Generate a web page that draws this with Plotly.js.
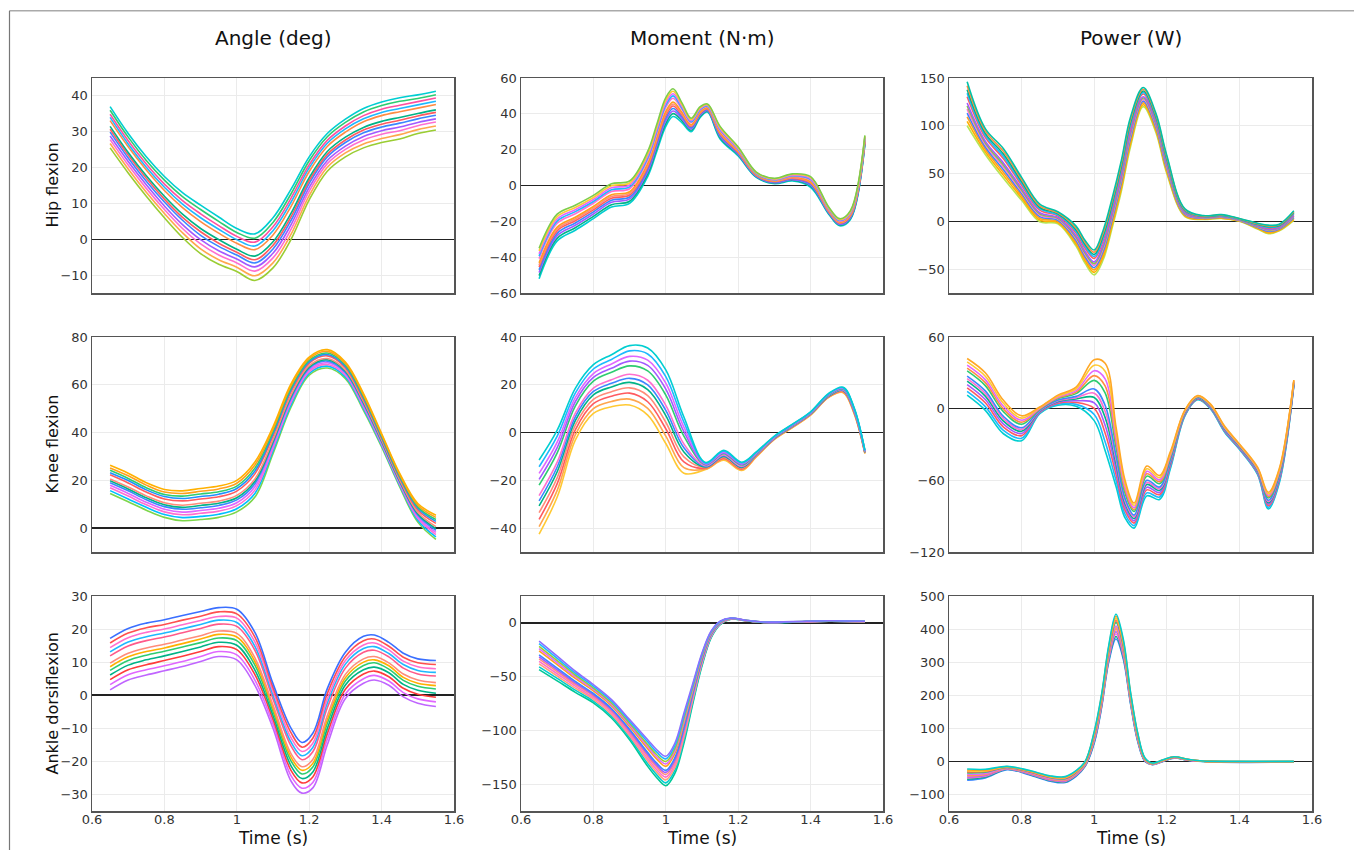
<!DOCTYPE html>
<html>
<head>
<meta charset="utf-8">
<script src="https://cdn.plot.ly/plotly-3.0.1.min.js"></script>
<style>html,body{margin:0;padding:0;background:#fff;}#chart{width:1354px;height:850px;}</style>
</head>
<body>
<div id="chart"></div>
<script>
// ---------- labels ----------
const columnTitles = ["Angle (deg)", "Moment (N\u00b7m)", "Power (W)"];
const rowTitles = ["Hip flexion", "Knee flexion", "Ankle dorsiflexion"];
const xTitle = "Time (s)";
const xTicks = [0.6, 0.8, 1.0, 1.2, 1.4, 1.6];
const xTickText = ['0.6','0.8','1','1.2','1.4','1.6'];

// ---------- data (each panel: time array + curves, lowest to highest) ----------
const timeStd = [0.65,0.70,0.75,0.80,0.85,0.90,0.95,1.0,1.05,1.10,1.15,1.20,1.25,1.30,1.35,1.40,1.45,1.50,1.55];

const hipAngleTime = timeStd;
const hipAngle = [
  [25.5,18.5,12,6,0.5,-4,-7,-9,-11.5,-8,0,11,19,23,25.5,27,28,29.5,30.5],
  [26.7,19.6,13.1,7.2,1.8,-2.7,-5.7,-7.8,-10.2,-6.6,1.4,12.2,20.1,24.1,26.6,28.1,29.2,30.6,31.6],
  [27.8,20.7,14.2,8.3,3.0,-1.3,-4.4,-6.6,-8.9,-5.2,2.8,13.4,21.1,25.1,27.7,29.3,30.3,31.7,32.7],
  [28.8,21.7,15.2,9.3,4.1,-0.1,-3.2,-5.5,-7.7,-3.9,4.1,14.5,22.0,26.0,28.7,30.3,31.3,32.6,33.6],
  [29.9,22.7,16.2,10.4,5.3,1.1,-2.0,-4.4,-6.6,-2.7,5.3,15.6,23.0,27.0,29.7,31.3,32.4,33.6,34.6],
  [30.7,23.5,17.0,11.2,6.1,2.1,-1.1,-3.6,-5.7,-1.7,6.3,16.4,23.7,27.7,30.5,32.1,33.2,34.4,35.4],
  [31.5,24.2,17.7,12.0,7.0,3.0,-0.1,-2.8,-4.7,-0.7,7.3,17.2,24.5,28.5,31.2,32.9,34.0,35.1,36.1],
  [33.1,25.8,19.3,13.6,8.8,4.9,1.7,-1.1,-2.9,1.2,9.2,18.9,25.9,29.9,32.8,34.5,35.6,36.6,37.6],
  [34.0,26.6,20.1,14.5,9.8,6.0,2.8,-0.1,-1.9,2.4,10.4,19.9,26.8,30.8,33.6,35.4,36.5,37.5,38.5],
  [34.9,27.5,21.0,15.4,10.8,7.1,3.8,0.8,-0.8,3.5,11.5,20.8,27.6,31.6,34.5,36.3,37.4,38.4,39.4],
  [36.0,28.5,22.0,16.5,11.9,8.3,5.0,1.9,0.3,4.7,12.7,21.9,28.6,32.6,35.5,37.3,38.5,39.3,40.3],
  [37,29.5,23,17.5,13,9.5,6.2,3,1.5,6,14,23,29.5,33.5,36.5,38.3,39.5,40.3,41.3]
];

const hipMomentTime = [0.65,0.70,0.75,0.80,0.85,0.90,0.95,0.975,1.0,1.02,1.045,1.07,1.095,1.115,1.15,1.2,1.25,1.3,1.35,1.4,1.45,1.48,1.51,1.55];
const hipMoment = [
  [-52,-31,-25,-18.5,-12,-10,5,19,33,38.5,35,30,38,41,26,16.5,4.5,1,2.5,-1,-16,-22.5,-19,23],
  [-50.3,-29.5,-23.6,-17.2,-10.7,-8.8,6.4,20.5,34.6,40.1,36.1,30.8,38.6,41.5,26.7,17.0,4.8,1.3,2.9,-0.4,-15.6,-22.1,-18.5,23.5],
  [-48.6,-28,-22.2,-15.9,-9.4,-7.5,7.8,22,36.2,41.6,37.2,31.5,39.2,41.9,27.4,17.5,5.1,1.6,3.3,0.2,-15.2,-21.7,-18,24],
  [-47.1,-26.7,-20.9,-14.7,-8.2,-6.4,9.1,23.4,37.6,43.0,38.2,32.2,39.7,42.3,28.0,18.0,5.4,1.9,3.7,0.7,-14.8,-21.3,-17.6,24.5],
  [-45.5,-25.3,-19.7,-13.6,-7.1,-5.3,10.3,24.7,39.1,44.4,39.2,32.9,40.3,42.7,28.7,18.4,5.6,2.1,4,1.3,-14.5,-21,-17.1,24.9],
  [-44.4,-24.3,-18.7,-12.7,-6.2,-4.4,11.3,25.8,40.2,45.5,40.0,33.4,40.7,43.0,29.2,18.8,5.9,2.4,4.3,1.7,-14.2,-20.7,-16.8,25.3],
  [-43.2,-23.2,-17.7,-11.7,-5.2,-3.5,12.3,26.8,41.3,46.6,40.7,33.9,41.1,43.3,29.6,19.1,6.1,2.6,4.6,2.1,-13.9,-20.4,-16.4,25.6],
  [-40.8,-21.1,-15.8,-9.9,-3.4,-1.8,14.2,28.9,43.6,48.7,42.3,35,42,44,30.6,19.8,6.5,3,5.1,3,-13.4,-19.9,-15.7,26.3],
  [-39.4,-19.9,-14.6,-8.9,-2.4,-0.8,15.4,30.1,44.8,50.0,43.1,35.6,42.4,44.3,31.2,20.2,6.7,3.2,5.5,3.4,-13.0,-19.5,-15.3,26.7],
  [-38.1,-18.7,-13.5,-7.8,-1.3,0.3,16.5,31.3,46.1,51.2,44,36.2,42.9,44.7,31.7,20.6,7,3.5,5.8,3.9,-12.7,-19.2,-14.9,27.1],
  [-36.5,-17.4,-12.3,-6.7,-0.2,1.4,17.7,32.7,47.6,52.6,45.0,36.8,43.5,45.1,32.4,21.1,7.2,3.7,6.1,4.5,-12.4,-18.9,-14.5,27.6],
  [-35,-16,-11,-5.5,1,2.5,19,34,49,54,46,37.5,44,45.5,33,21.5,7.5,4,6.5,5,-12,-18.5,-14,28]
];

const hipPowerTime = [0.65,0.70,0.75,0.80,0.85,0.90,0.95,0.975,1.0,1.025,1.05,1.075,1.1,1.135,1.17,1.2,1.25,1.3,1.35,1.4,1.45,1.48,1.51,1.55];
const hipPower = [
  [100,70,45,22,-0.5,-2.5,-26,-44,-56,-40,-6,32,78,120,93,50,5,2,3,0,-8,-13,-10,1],
  [104.6,72.7,48.1,24.4,1.4,-1.3,-23.9,-41.6,-53.4,-36.9,-2.9,35.2,81.1,122,95,51.9,5.8,2.4,3.4,0.3,-7.4,-12.1,-9.3,2],
  [109.2,75.4,51.2,26.8,3.2,0,-21.8,-39.2,-50.8,-33.8,0.2,38.4,84.2,124,97,53.8,6.6,2.8,3.8,0.6,-6.8,-11.2,-8.6,3],
  [113.3,77.8,54.0,29.0,4.9,1.1,-19.9,-37.0,-48.5,-31.0,3.0,41.3,87.0,125.8,98.8,55.5,7.3,3.2,4.2,0.9,-6.3,-10.4,-8.0,3.9],
  [117.5,80.3,56.8,31.1,6.5,2.3,-18,-34.9,-46.1,-28.2,5.8,44.2,89.8,127.6,100.6,57.2,8,3.5,4.5,1.1,-5.7,-9.6,-7.3,4.8],
  [120.7,82.2,59.0,32.8,7.8,3.1,-16.6,-33.2,-44.3,-26.1,8.0,46.4,92.0,129,102,58.6,8.6,3.8,4.8,1.4,-5.3,-9.0,-6.9,5.5],
  [123.9,84,61.1,34.5,9.1,4,-15.1,-31.5,-42.5,-23.9,10.1,48.6,94.1,130.4,103.4,59.9,9.2,4.1,5.1,1.6,-4.9,-8.3,-6.4,6.2],
  [130.4,87.8,65.5,37.8,11.7,5.8,-12.1,-28.2,-38.8,-19.5,14.5,53.1,98.5,133.2,106.2,62.5,10.3,4.6,5.6,2,-4,-7.1,-5.4,7.6],
  [134.0,90.0,67.9,39.8,13.2,6.8,-10.5,-26.2,-36.8,-17.1,16.9,55.7,100.9,134.8,107.8,64.1,10.9,5.0,6.0,2.2,-3.6,-6.3,-4.8,8.4],
  [137.7,92.1,70.4,41.7,14.7,7.8,-8.8,-24.3,-34.7,-14.6,19.4,58.2,103.4,136.4,109.4,65.6,11.6,5.3,6.3,2.5,-3.1,-5.6,-4.3,9.2],
  [141.9,94.6,73.2,43.8,16.3,8.9,-6.9,-22.2,-32.3,-11.8,22.2,61.1,106.2,138.2,111.2,67.3,12.3,5.6,6.6,2.7,-2.5,-4.8,-3.6,10.1],
  [146,97,76,46,18,10,-5,-20,-30,-9,25,64,109,140,113,69,13,6,7,3,-2,-4,-3,11]
];

const kneeAngleTime = timeStd;
const kneeAngle = [
  [14.5,11,7.5,4.5,3.1,3.6,4.5,6.8,13,31.2,50.7,64,67,62.6,49.3,34,17.3,2.5,-4.7],
  [15.7,12.2,8.7,5.7,4.4,4.9,5.8,8.1,14.5,32.3,51.7,64.8,67.8,63.3,50.0,34.6,17.9,3.3,-3.7],
  [16.9,13.4,9.8,6.8,5.6,6.2,7.1,9.4,15.9,33.4,52.7,65.5,68.5,64,50.7,35.1,18.4,4.1,-2.7],
  [17.9,14.5,10.8,7.9,6.7,7.4,8.3,10.6,17.3,34.4,53.5,66.2,69.2,64.6,51.3,35.6,18.9,4.8,-1.8],
  [19,15.6,11.9,9,7.9,8.5,9.5,11.8,18.6,35.5,54.4,66.9,69.9,65.2,52,36.1,19.4,5.5,-0.9],
  [19.8,16.4,12.7,9.8,8.7,9.5,10.4,12.7,19.6,36.2,55.1,67.4,70.5,65.7,52.5,36.5,19.8,6.0,-0.2],
  [20.6,17.2,13.5,10.6,9.6,10.4,11.3,13.7,20.6,37,55.8,68,71,66.2,53,36.9,20.2,6.6,0.6],
  [22.3,18.9,15.1,12.2,11.4,12.2,13.1,15.5,22.7,38.6,57.2,69,72.1,67.2,53.9,37.7,21,7.6,2],
  [23.2,19.9,16.0,13.2,12.4,13.2,14.2,16.6,23.9,39.5,58.0,69.6,72.7,67.7,54.5,38.1,21.4,8.3,2.8],
  [24.2,20.8,16.9,14.1,13.4,14.3,15.2,17.6,25.1,40.4,58.7,70.2,73.3,68.3,55,38.6,21.9,8.9,3.6],
  [25.2,21.9,18.0,15.1,14.5,15.4,16.4,18.8,26.4,41.4,59.6,70.9,74.0,68.9,55.7,39.1,22.4,9.6,4.5],
  [26.3,23,19,16.2,15.6,16.6,17.6,20,27.7,42.4,60.5,71.6,74.7,69.5,56.3,39.6,22.9,10.3,5.4]
];

const kneeMomentTime = [0.65,0.70,0.75,0.80,0.85,0.90,0.95,1.0,1.05,1.11,1.16,1.21,1.25,1.3,1.35,1.4,1.45,1.49,1.52,1.55];
const kneeMoment = [
  [-42.5,-27,-3.2,8,10.8,11.5,7.3,-4.6,-17,-15.5,-11.6,-15.9,-10.2,-2.9,2.1,7.3,14.7,16.7,8,-8.8],
  [-39.4,-24.2,-1.0,10.0,13.0,14.0,10.1,-1.5,-14.7,-15.2,-11.2,-15.6,-10.0,-2.8,2.2,7.4,14.9,16.9,8.3,-8.7],
  [-36.3,-21.4,1.1,12.1,15.2,16.5,12.9,1.6,-12.3,-14.9,-10.8,-15.2,-9.8,-2.6,2.4,7.6,15,17.2,8.5,-8.5],
  [-33.5,-18.9,3.1,13.9,17.1,18.7,15.5,4.3,-10.2,-14.6,-10.4,-14.9,-9.6,-2.5,2.5,7.7,15.2,17.4,8.7,-8.4],
  [-30.7,-16.4,5,15.8,19.1,21,18,7.1,-8.1,-14.4,-10,-14.6,-9.4,-2.4,2.6,7.8,15.3,17.6,9,-8.3],
  [-28.6,-14.4,6.6,17.2,20.6,22.7,20.0,9.3,-6.4,-14.2,-9.7,-14.3,-9.3,-2.3,2.7,7.9,15.5,17.7,9.1,-8.2],
  [-26.4,-12.4,8.1,18.6,22.1,24.4,21.9,11.4,-4.8,-13.9,-9.4,-14.1,-9.1,-2.2,2.8,8,15.6,17.9,9.3,-8.1],
  [-22,-8.5,11.1,21.5,25.2,27.9,25.8,15.7,-1.5,-13.5,-8.8,-13.6,-8.8,-2,3,8.2,15.8,18.2,9.7,-7.9],
  [-19.6,-6.3,12.9,23.1,26.9,29.9,28.1,18.2,0.4,-13.3,-8.5,-13.3,-8.6,-1.9,3.1,8.3,16.0,18.4,9.9,-7.8],
  [-17.1,-4,14.6,24.7,28.7,31.9,30.3,20.7,2.3,-13,-8.2,-13,-8.5,-1.8,3.3,8.4,16.1,18.6,10.1,-7.7],
  [-14.3,-1.5,16.5,26.6,30.6,34.2,32.9,23.4,4.4,-12.8,-7.8,-12.7,-8.3,-1.6,3.4,8.6,16.2,18.8,10.3,-7.5],
  [-11.5,1,18.5,28.4,32.6,36.4,35.4,26.2,6.5,-12.5,-7.4,-12.4,-8.1,-1.5,3.5,8.7,16.4,19,10.5,-7.4]
];

const kneePowerTime = [0.65,0.70,0.75,0.80,0.85,0.90,0.95,1.0,1.03,1.06,1.085,1.11,1.145,1.18,1.21,1.25,1.285,1.32,1.36,1.4,1.45,1.48,1.51,1.55];
const kneePower = [
  [11.3,-1.4,-21,-26.8,-4.2,2.8,2,-10,-35,-65,-91.5,-100,-73,-76,-50,-6,7.5,0,-20,-34,-55,-84,-62,19.5],
  [14.4,1.7,-18.2,-24.7,-3.6,3.7,3.6,-4.9,-27.7,-60,-88.4,-97.9,-70.5,-74,-48.6,-5.5,7.9,0.4,-19.5,-33.6,-54.4,-82.6,-60.8,19.9],
  [17.4,4.9,-15.4,-22.6,-3.1,4.5,5.2,0.2,-20.4,-55,-85.2,-95.8,-68,-72,-47.2,-5,8.2,0.8,-19,-33.1,-53.8,-81.2,-59.6,20.4],
  [20.2,7.7,-12.9,-20.8,-2.6,5.3,6.6,4.8,-13.8,-50.5,-82.4,-93.9,-65.8,-70.2,-45.9,-4.6,8.5,1.2,-18.6,-32.7,-53.3,-79.9,-58.5,20.8],
  [23,10.5,-10.4,-18.9,-2.1,6,8.1,9.4,-7.3,-46,-79.5,-92,-63.5,-68.4,-44.7,-4.1,8.8,1.5,-18.1,-32.3,-52.7,-78.7,-57.4,21.2],
  [25.1,12.7,-8.4,-17.4,-1.7,6.6,9.2,13.0,-2.2,-42.5,-77.3,-90.6,-61.8,-67,-43.7,-3.8,9.1,1.8,-17.8,-32.0,-52.3,-77.7,-56.6,21.5],
  [27.3,14.9,-6.4,-16,-1.3,7.2,10.3,16.5,2.9,-39,-75.1,-89.1,-60,-65.6,-42.7,-3.4,9.3,2.1,-17.4,-31.7,-51.9,-76.7,-55.8,21.8],
  [31.6,19.3,-2.5,-13.1,-0.5,8.4,12.6,23.7,13.2,-32,-70.7,-86.1,-56.5,-62.8,-40.8,-2.7,9.8,2.6,-16.7,-31,-51,-74.8,-54.1,22.5],
  [34.0,21.8,-0.3,-11.4,-0.1,9.1,13.8,27.7,19.0,-28,-68.2,-84.5,-54.5,-61.2,-39.6,-2.3,10.1,3.0,-16.3,-30.7,-50.6,-73.6,-53.1,22.8],
  [36.5,24.3,2,-9.7,0.4,9.8,15.1,31.8,24.9,-24,-65.7,-82.8,-52.5,-59.6,-38.5,-1.9,10.4,3.3,-15.9,-30.3,-50.1,-72.5,-52.2,23.2],
  [39.2,27.2,4.5,-7.9,0.9,10.5,16.6,36.4,31.4,-19.5,-62.8,-80.9,-50.3,-57.8,-37.3,-1.5,10.7,3.6,-15.5,-29.9,-49.5,-71.3,-51.1,23.6],
  [42,30,7,-6,1.4,11.3,18,41,38,-15,-60,-79,-48,-56,-36,-1,11,4,-15,-29.5,-49,-70,-50,24]
];

const ankleAngleTime = [0.65,0.70,0.75,0.80,0.85,0.90,0.95,1.0,1.05,1.1,1.15,1.18,1.21,1.25,1.3,1.35,1.38,1.42,1.46,1.5,1.55];
const ankleAngle = [
  [1.6,4.6,6.1,7.4,8.7,10.2,11.7,10.7,3,-10,-26,-29.6,-28,-15,-1,3.6,4.6,3,-0.5,-2.4,-3.4],
  [3.2,6.2,7.7,8.9,10.2,11.7,13.2,12.2,4.6,-8.7,-24.4,-28.1,-26.4,-13.3,0.4,5.0,6.0,4.3,0.8,-1.1,-2.0],
  [4.7,7.7,9.2,10.5,11.8,13.2,14.7,13.8,6.2,-7.3,-22.8,-26.5,-24.7,-11.6,1.8,6.4,7.3,5.6,2.1,0.3,-0.6],
  [6.1,9.1,10.7,11.9,13.2,14.6,16.0,15.1,7.6,-6.1,-21.4,-25.2,-23.2,-10.1,3.1,7.7,8.5,6.8,3.3,1.5,0.6],
  [7.5,10.5,12.1,13.3,14.6,15.9,17.3,16.5,9.1,-4.9,-19.9,-23.8,-21.7,-8.5,4.3,9,9.8,7.9,4.5,2.7,1.9],
  [8.6,11.6,13.2,14.3,15.6,17.0,18.4,17.6,10.2,-3.9,-18.8,-22.7,-20.6,-7.4,5.3,10.0,10.7,8.9,5.4,3.6,2.9],
  [9.7,12.7,14.3,15.4,16.7,18,19.4,18.7,11.3,-3,-17.7,-21.6,-19.4,-6.2,6.3,11,11.7,9.8,6.4,4.6,3.8],
  [11.9,14.9,16.5,17.6,18.9,20.2,21.5,20.8,13.6,-1.1,-15.4,-19.5,-17.1,-3.8,8.2,13,13.6,11.6,8.2,6.4,5.8],
  [13.1,16.1,17.7,18.8,20.1,21.4,22.7,22.0,14.8,0.0,-14.2,-18.3,-15.8,-2.4,9.4,14.1,14.7,12.6,9.3,7.5,6.9],
  [14.4,17.4,19,20,21.3,22.6,23.8,23.3,16.1,1.1,-12.9,-17,-14.5,-1.1,10.5,15.2,15.8,13.7,10.3,8.6,8],
  [15.8,18.8,20.4,21.4,22.7,23.9,25.2,24.6,17.6,2.3,-11.4,-15.7,-13.0,0.5,11.7,16.5,17.0,14.8,11.5,9.8,9.3],
  [17.2,20.2,21.8,22.8,24.1,25.3,26.5,26,19,3.5,-10,-14.3,-11.5,2,13,17.8,18.2,16,12.7,11,10.5]
];

const ankleMomentTime = [0.65,0.70,0.75,0.80,0.85,0.90,0.95,0.975,1.0,1.025,1.05,1.075,1.1,1.125,1.15,1.18,1.22,1.27,1.35,1.45,1.55];
const ankleMoment = [
  [-43.5,-54,-64.6,-74.5,-88.5,-108.7,-133.5,-144,-151.5,-140,-112,-74.5,-40,-14,-1.6,3.5,2,0.4,0.6,1.5,1],
  [-40.9,-51.7,-62.6,-72.8,-86.8,-106.8,-131.0,-141.4,-148.8,-137.2,-109.2,-72.7,-38.8,-13.4,-1.3,3.6,2.1,0.4,0.7,1.6,1.1],
  [-38.2,-49.4,-60.7,-71.1,-85.1,-105,-128.5,-138.8,-146,-134.4,-106.4,-70.8,-37.6,-12.8,-1,3.7,2.1,0.5,0.7,1.6,1.1],
  [-35.8,-47.3,-58.9,-69.6,-83.5,-103.3,-126.3,-136.5,-143.5,-131.9,-103.9,-69.1,-36.5,-12.2,-0.7,3.8,2.1,0.5,0.8,1.6,1.1],
  [-33.4,-45.3,-57.2,-68,-82,-101.6,-124.1,-134.1,-141,-129.4,-101.4,-67.5,-35.4,-11.6,-0.4,3.9,2.2,0.6,0.8,1.7,1.2],
  [-31.6,-43.7,-55.8,-66.9,-80.8,-100.3,-122.3,-132.3,-139.1,-127.4,-99.4,-66.2,-34.6,-11.2,-0.2,4.0,2.2,0.6,0.9,1.7,1.2],
  [-29.7,-42,-54.4,-65.7,-79.6,-99,-120.6,-130.5,-137.2,-125.4,-97.4,-64.9,-33.8,-10.8,0.1,4,2.3,0.6,0.9,1.8,1.3],
  [-26,-38.8,-51.7,-63.3,-77.2,-96.4,-117.1,-126.8,-133.4,-121.5,-93.5,-62.3,-32.1,-9.9,0.5,4.2,2.3,0.7,0.9,1.8,1.3],
  [-23.9,-37.0,-50.1,-61.9,-75.8,-94.9,-115.1,-124.8,-131.2,-119.3,-91.3,-60.8,-31.1,-9.4,0.8,4.2,2.4,0.7,1.0,1.9,1.4],
  [-21.8,-35.1,-48.5,-60.6,-74.5,-93.4,-113.2,-122.7,-129,-117,-89,-59.3,-30.2,-8.9,1,4.3,2.4,0.7,1.1,1.9,1.4],
  [-19.4,-33.1,-46.8,-59.0,-72.9,-91.7,-110.9,-120.3,-126.5,-114.5,-86.5,-57.7,-29.1,-8.4,1.3,4.4,2.5,0.8,1.1,2.0,1.5],
  [-17,-31,-45,-57.5,-71.4,-90,-108.7,-118,-124,-112,-84,-56,-28,-7.8,1.6,4.5,2.5,0.8,1.2,2,1.5]
];

const anklePowerTime = [0.65,0.70,0.76,0.82,0.88,0.92,0.95,0.975,1.0,1.02,1.04,1.06,1.08,1.1,1.12,1.14,1.16,1.19,1.22,1.26,1.3,1.4,1.55];
const anklePower = [
  [-57,-50,-25,-40,-60,-64,-45,-15,55,160,300,370,310,175,60,0,-10,0,10,3,0,-3,-2],
  [-53.6,-47.4,-24,-38.7,-58.4,-62.2,-43.3,-13.5,58.5,164,305,377.5,316,178.5,62.5,1,-9.5,0.5,10.4,3.3,0.1,-2.7,-1.8],
  [-50.2,-44.8,-23,-37.4,-56.8,-60.4,-41.6,-12,62,168,310,385,322,182,65,2,-9,1,10.8,3.6,0.2,-2.4,-1.6],
  [-47.1,-42.5,-22.1,-36.2,-55.4,-58.8,-40.1,-10.7,65.2,171.6,314.5,391.8,327.4,185.2,67.3,2.9,-8.6,1.5,11.2,3.9,0.3,-2.1,-1.4],
  [-44.1,-40.1,-21.2,-35.1,-53.9,-57.2,-38.5,-9.3,68.3,175.2,319,398.5,332.8,188.3,69.5,3.8,-8.1,1.9,11.5,4.1,0.4,-1.9,-1.2],
  [-41.7,-38.3,-20.5,-34.2,-52.8,-55.9,-37.4,-8.3,70.8,178,322.5,403.8,337,190.8,71.3,4.5,-7.8,2.3,11.8,4.4,0.5,-1.7,-1.1],
  [-39.3,-36.5,-19.8,-33.2,-51.7,-54.6,-36.2,-7.2,73.2,180.8,326,409,341.2,193.2,73,5.2,-7.4,2.6,12.1,4.6,0.5,-1.4,-1],
  [-34.6,-32.8,-18.4,-31.4,-49.4,-52.1,-33.8,-5.1,78.1,186.4,333,419.5,349.6,198.1,76.5,6.6,-6.7,3.3,12.6,5,0.7,-1,-0.7],
  [-31.8,-30.8,-17.6,-30.4,-48.2,-50.7,-32.4,-3.9,80.9,189.6,337,425.5,354.4,200.9,78.5,7.4,-6.3,3.7,13,5.2,0.7,-0.8,-0.5],
  [-29.1,-28.7,-16.8,-29.3,-46.9,-49.2,-31.1,-2.7,83.7,192.8,341,431.5,359.2,203.7,80.5,8.2,-5.9,4.1,13.3,5.5,0.8,-0.5,-0.4],
  [-26.1,-26.3,-15.9,-28.2,-45.4,-47.6,-29.5,-1.4,86.9,196.4,345.5,438.3,364.6,206.9,82.8,9.1,-5.5,4.6,13.6,5.7,0.9,-0.3,-0.2],
  [-23,-24,-15,-27,-44,-46,-28,0,90,200,350,445,370,210,85,10,-5,5,14,6,1,0,0]
];

// y-axis settings per panel (row-major)
const yRanges = [[-15,45],[-60,60],[-75,150],[-10,80],[-50,40],[-120,60],[-35,30],[-175,25],[-150,500]];
const yDticks = [10,20,50,20,20,60,10,50,100];

// line colours per panel, lowest curve to highest curve
const panelColors = [
  ['#9ACD32','#FFA64D','#FF6FCF','#A259FF','#3A86FF','#FF5A5F','#00B386','#FF8C42','#1EB8FF','#FF4FA0','#2ECC71','#00CED1'],
  ['#00CED1','#00B386','#A259FF','#3A86FF','#FF5A5F','#FF8C7A','#FF9F1C','#FF6FCF','#1EB8FF','#E066FF','#FFC933','#7CCD4A'],
  ['#B5E655','#FFB000','#FF9F1C','#3A86FF','#FF6FCF','#7CCD4A','#A259FF','#FF5A5F','#1EB8FF','#00B386','#FF8C42','#00C2A8'],
  ['#7CD64A','#00BFFF','#FF6FCF','#E066FF','#3A86FF','#00B386','#FF8C7A','#FF5A5F','#1E90FF','#2ECC71','#FF9F1C','#FFB000'],
  ['#FFC933','#FFA64D','#FF5A5F','#FF8C7A','#00B386','#3A86FF','#FF6FCF','#2ECC71','#A259FF','#E066FF','#1EB8FF','#00CED1'],
  ['#00CED1','#1EB8FF','#FF5A5F','#A259FF','#00B386','#FF6FCF','#3A86FF','#2ECC71','#FF8C42','#E066FF','#FFC933','#FFA726'],
  ['#C065FF','#E066FF','#FF3B3B','#00B386','#2ECC71','#FFB000','#FF8C7A','#FF5A8A','#1EB8FF','#FF6FCF','#FF4F4F','#3A6FFF'],
  ['#00C896','#00CED1','#FFA07A','#FF6FCF','#FF8C7A','#A259FF','#3A86FF','#FF9F1C','#E066FF','#9ACD32','#1EB8FF','#8A6FFF'],
  ['#3A86FF','#00B386','#FF6FCF','#A259FF','#FF8C7A','#FFA726','#E066FF','#2ECC71','#FF5A5F','#FFC933','#FF9F1C','#00CED1']
];

const panels = [
  [hipAngleTime, hipAngle], [hipMomentTime, hipMoment], [hipPowerTime, hipPower],
  [kneeAngleTime, kneeAngle], [kneeMomentTime, kneeMoment], [kneePowerTime, kneePower],
  [ankleAngleTime, ankleAngle], [ankleMomentTime, ankleMoment], [anklePowerTime, anklePower]
];

// ---------- layout geometry (pixels) ----------
const W = 1354, H = 850;
const colPx = [[92,454],[521,883],[949,1312]];
const rowPx = [[78,293],[337,552],[596,811]];
const FONT = 'DejaVu Sans, Verdana, sans-serif';

const traces = [];
const layout = {
  width: W, height: H,
  margin: {l:0, r:0, t:0, b:0},
  paper_bgcolor: '#ffffff', plot_bgcolor: '#ffffff',
  showlegend: false,
  font: {family: FONT, color: '#333'},
  annotations: [],
  shapes: [
    {type:'line', xref:'paper', yref:'paper', x0: 9.5/W, x1: 1, y0: 1-10.7/H, y1: 1-10.7/H, line:{color:'#aaaaaa', width:1.5}},
    {type:'line', xref:'paper', yref:'paper', x0: 9.5/W, x1: 9.5/W, y0: 0, y1: 1-10.7/H, line:{color:'#777777', width:1.2}}
  ]
};

for (let r = 0; r < 3; r++) {
  for (let c = 0; c < 3; c++) {
    const i = r*3 + c;
    const xid = i === 0 ? 'x' : 'x' + (i+1);
    const yid = i === 0 ? 'y' : 'y' + (i+1);
    const xkey = i === 0 ? 'xaxis' : 'xaxis' + (i+1);
    const ykey = i === 0 ? 'yaxis' : 'yaxis' + (i+1);
    const [t, curves] = panels[i];
    curves.forEach((vals, k) => {
      traces.push({
        type: 'scatter', mode: 'lines', x: t, y: vals,
        xaxis: xid, yaxis: yid,
        line: {color: panelColors[i][k], width: 1.6, shape: 'spline', smoothing: 1},
        hoverinfo: 'skip', showlegend: false
      });
    });
    layout[xkey] = {
      domain: [colPx[c][0]/W, colPx[c][1]/W],
      anchor: yid, range: [0.6, 1.6], tickvals: xTicks, ticktext: xTickText,
      showticklabels: r === 2, ticklabelstandoff: -4,
      tickfont: {family: FONT, size: 13, color: '#333'},
      showgrid: true, gridcolor: '#ebebeb', gridwidth: 1,
      zeroline: false, showline: true, mirror: true,
      linecolor: '#555', linewidth: 1.5, ticks: ''
    };
    layout[ykey] = {
      domain: [1 - rowPx[r][1]/H, 1 - rowPx[r][0]/H],
      anchor: xid, range: yRanges[i], dtick: yDticks[i], tick0: 0,
      tickfont: {family: FONT, size: 13, color: '#333'},
      showgrid: true, gridcolor: '#ebebeb', gridwidth: 1,
      zeroline: true, zerolinecolor: '#222', zerolinewidth: 1.5,
      showline: true, mirror: true, linecolor: '#555', linewidth: 1.5, ticks: ''
    };
  }
}

// column titles and x titles
for (let c = 0; c < 3; c++) {
  const cx = (colPx[c][0] + colPx[c][1]) / 2 / W;
  layout.annotations.push({
    text: columnTitles[c], xref: 'paper', yref: 'paper',
    x: cx, y: 1 - 38/H, xanchor: 'center', yanchor: 'middle', showarrow: false,
    font: {family: FONT, size: 20, color: '#111'}
  });
  layout.annotations.push({
    text: xTitle, xref: 'paper', yref: 'paper',
    x: cx, y: 0, xanchor: 'center', yanchor: 'bottom', showarrow: false,
    font: {family: FONT, size: 17, color: '#111'}
  });
}
// row titles
for (let r = 0; r < 3; r++) {
  layout.annotations.push({
    text: rowTitles[r], xref: 'paper', yref: 'paper',
    x: 52/W, y: 1 - (rowPx[r][0] + rowPx[r][1]) / 2 / H,
    xanchor: 'center', yanchor: 'middle', showarrow: false, textangle: -90,
    font: {family: FONT, size: 16, color: '#111'}
  });
}

Plotly.newPlot('chart', traces, layout, {displayModeBar: false, staticPlot: true});
</script>
</body>
</html>
